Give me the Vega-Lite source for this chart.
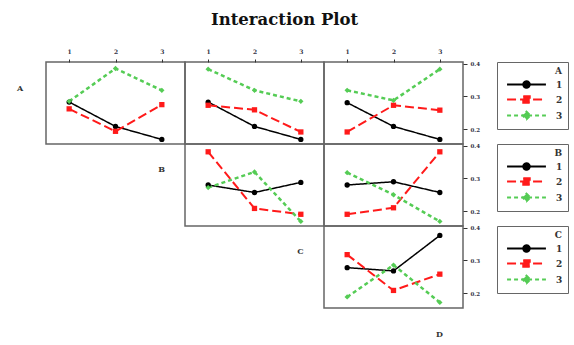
{
  "$schema": "https://vega.github.io/schema/vega-lite/v6.json",
  "padding": {"left": 0, "top": 11, "right": 4, "bottom": 0},
  "background": "white",
  "title": {"text": "Interaction Plot", "font": "DejaVu Serif", "fontSize": 16.5, "fontWeight": "bold", "color": "#111", "anchor": "middle", "offset": 19},
  "bounds": "flush",
  "spacing": 0,
  "columns": 4,
  "align": "each",
  "config": {
    "view": {"stroke": "#666", "strokeWidth": 1.5},
    "font": "DejaVu Serif",
    "axis": {"grid": false, "domain": false, "tickColor": "#333", "labelFont": "DejaVu Serif", "labelFontWeight": "bold", "labelColor": "#334"},
    "legend": {"orient": "none", "legendX": 173, "legendY": 0, "titleAnchor": "end", "titleFont": "DejaVu Serif", "titleFontSize": 9, "titleFontWeight": "bold", "titleColor": "#333", "titlePadding": 4,
      "labelFont": "DejaVu Serif", "labelFontSize": 9, "labelFontWeight": "bold", "labelColor": "#333", "symbolSize": 42, "symbolOffset": 20, "labelOffset": 25, "rowPadding": 0, "symbolOpacity": 1, "symbolStrokeWidth": 2,
      "strokeColor": "#666", "fillColor": "white", "padding": 5}
  },
  "resolve": {"scale": {"color": "independent", "fill": "independent", "stroke": "independent", "shape": "independent", "strokeDash": "independent", "strokeWidth": "independent", "x": "independent", "y": "independent"}, "legend": {"fill": "independent", "stroke": "independent", "shape": "independent", "strokeDash": "independent"}},
  "datasets": {
    "d": [
      {"trace": "A", "xfac": "B", "level": "1", "x": 1, "mean": 0.283},
      {"trace": "A", "xfac": "B", "level": "1", "x": 2, "mean": 0.208},
      {"trace": "A", "xfac": "B", "level": "1", "x": 3, "mean": 0.168},
      {"trace": "A", "xfac": "B", "level": "2", "x": 1, "mean": 0.262},
      {"trace": "A", "xfac": "B", "level": "2", "x": 2, "mean": 0.193},
      {"trace": "A", "xfac": "B", "level": "2", "x": 3, "mean": 0.275},
      {"trace": "A", "xfac": "B", "level": "3", "x": 1, "mean": 0.285},
      {"trace": "A", "xfac": "B", "level": "3", "x": 2, "mean": 0.386},
      {"trace": "A", "xfac": "B", "level": "3", "x": 3, "mean": 0.319},
      {"trace": "A", "xfac": "C", "level": "1", "x": 1, "mean": 0.283},
      {"trace": "A", "xfac": "C", "level": "1", "x": 2, "mean": 0.208},
      {"trace": "A", "xfac": "C", "level": "1", "x": 3, "mean": 0.168},
      {"trace": "A", "xfac": "C", "level": "2", "x": 1, "mean": 0.273},
      {"trace": "A", "xfac": "C", "level": "2", "x": 2, "mean": 0.259},
      {"trace": "A", "xfac": "C", "level": "2", "x": 3, "mean": 0.191},
      {"trace": "A", "xfac": "C", "level": "3", "x": 1, "mean": 0.384},
      {"trace": "A", "xfac": "C", "level": "3", "x": 2, "mean": 0.319},
      {"trace": "A", "xfac": "C", "level": "3", "x": 3, "mean": 0.285},
      {"trace": "A", "xfac": "D", "level": "1", "x": 1, "mean": 0.281},
      {"trace": "A", "xfac": "D", "level": "1", "x": 2, "mean": 0.208},
      {"trace": "A", "xfac": "D", "level": "1", "x": 3, "mean": 0.168},
      {"trace": "A", "xfac": "D", "level": "2", "x": 1, "mean": 0.191},
      {"trace": "A", "xfac": "D", "level": "2", "x": 2, "mean": 0.273},
      {"trace": "A", "xfac": "D", "level": "2", "x": 3, "mean": 0.258},
      {"trace": "A", "xfac": "D", "level": "3", "x": 1, "mean": 0.319},
      {"trace": "A", "xfac": "D", "level": "3", "x": 2, "mean": 0.288},
      {"trace": "A", "xfac": "D", "level": "3", "x": 3, "mean": 0.384},
      {"trace": "B", "xfac": "C", "level": "1", "x": 1, "mean": 0.280},
      {"trace": "B", "xfac": "C", "level": "1", "x": 2, "mean": 0.257},
      {"trace": "B", "xfac": "C", "level": "1", "x": 3, "mean": 0.288},
      {"trace": "B", "xfac": "C", "level": "2", "x": 1, "mean": 0.382},
      {"trace": "B", "xfac": "C", "level": "2", "x": 2, "mean": 0.208},
      {"trace": "B", "xfac": "C", "level": "2", "x": 3, "mean": 0.190},
      {"trace": "B", "xfac": "C", "level": "3", "x": 1, "mean": 0.272},
      {"trace": "B", "xfac": "C", "level": "3", "x": 2, "mean": 0.320},
      {"trace": "B", "xfac": "C", "level": "3", "x": 3, "mean": 0.168},
      {"trace": "B", "xfac": "D", "level": "1", "x": 1, "mean": 0.280},
      {"trace": "B", "xfac": "D", "level": "1", "x": 2, "mean": 0.290},
      {"trace": "B", "xfac": "D", "level": "1", "x": 3, "mean": 0.257},
      {"trace": "B", "xfac": "D", "level": "2", "x": 1, "mean": 0.190},
      {"trace": "B", "xfac": "D", "level": "2", "x": 2, "mean": 0.210},
      {"trace": "B", "xfac": "D", "level": "2", "x": 3, "mean": 0.382},
      {"trace": "B", "xfac": "D", "level": "3", "x": 1, "mean": 0.318},
      {"trace": "B", "xfac": "D", "level": "3", "x": 2, "mean": 0.250},
      {"trace": "B", "xfac": "D", "level": "3", "x": 3, "mean": 0.168},
      {"trace": "C", "xfac": "D", "level": "1", "x": 1, "mean": 0.278},
      {"trace": "C", "xfac": "D", "level": "1", "x": 2, "mean": 0.268},
      {"trace": "C", "xfac": "D", "level": "1", "x": 3, "mean": 0.377},
      {"trace": "C", "xfac": "D", "level": "2", "x": 1, "mean": 0.318},
      {"trace": "C", "xfac": "D", "level": "2", "x": 2, "mean": 0.208},
      {"trace": "C", "xfac": "D", "level": "2", "x": 3, "mean": 0.258},
      {"trace": "C", "xfac": "D", "level": "3", "x": 1, "mean": 0.188},
      {"trace": "C", "xfac": "D", "level": "3", "x": 2, "mean": 0.286},
      {"trace": "C", "xfac": "D", "level": "3", "x": 3, "mean": 0.171}
    ]
  },
  "concat": [
    {"width": 46, "height": 82, "view": {"stroke": null}, "data": {"values": [{"t": "A"}]},
     "mark": {"type": "text", "font": "DejaVu Serif", "fontSize": 8, "fontWeight": "bold", "color": "#333", "dx": -3, "dy": -14}, "encoding": {"text": {"field": "t"}}},
    {"width": 139, "height": 82, "data": {"name": "d"},
     "transform": [{"filter": "datum.trace === 'A' && datum.xfac === 'B'"}],
     "encoding": {
       "x": {"field": "x", "type": "quantitative", "scale": {"domain": [0.5, 3.5], "nice": false, "zero": false}, "axis": {"orient": "top", "values": [1, 2, 3], "format": "d", "title": null, "tickSize": 3, "labelFontSize": 6, "labelPadding": 5}},
       "y": {"field": "mean", "type": "quantitative", "scale": {"domain": [0.154, 0.406], "nice": false, "zero": false}, "axis": null},
       "color": {"field": "level", "type": "nominal", "scale": {"domain": ["1", "2", "3"], "range": ["#000000", "#ff1a1a", "#55cc55"]}, "legend": null}
     },
     "layer": [
       {"mark": {"type": "line"}, "encoding": {
         "strokeDash": {"field": "level", "type": "nominal", "scale": {"domain": ["1", "2", "3"], "range": [[1, 0], [9, 4], [4, 3]]}, "legend": null},
         "strokeWidth": {"field": "level", "type": "ordinal", "scale": {"domain": ["1", "2", "3"], "range": [1.5, 2.5, 2.2]}, "legend": null}}},
       {"mark": {"type": "point", "filled": true, "opacity": 1, "size": 28}, "encoding": {
         "shape": {"field": "level", "type": "nominal", "scale": {"domain": ["1", "2", "3"], "range": ["circle", "square", "diamond"]}, "legend": null}}}
     ]},
    {"width": 139, "height": 82, "data": {"name": "d"},
     "transform": [{"filter": "datum.trace === 'A' && datum.xfac === 'C'"}],
     "encoding": {
       "x": {"field": "x", "type": "quantitative", "scale": {"domain": [0.5, 3.5], "nice": false, "zero": false}, "axis": {"orient": "top", "values": [1, 2, 3], "format": "d", "title": null, "tickSize": 3, "labelFontSize": 6, "labelPadding": 5}},
       "y": {"field": "mean", "type": "quantitative", "scale": {"domain": [0.154, 0.406], "nice": false, "zero": false}, "axis": null},
       "color": {"field": "level", "type": "nominal", "scale": {"domain": ["1", "2", "3"], "range": ["#000000", "#ff1a1a", "#55cc55"]}, "legend": null}
     },
     "layer": [
       {"mark": {"type": "line"}, "encoding": {
         "strokeDash": {"field": "level", "type": "nominal", "scale": {"domain": ["1", "2", "3"], "range": [[1, 0], [9, 4], [4, 3]]}, "legend": null},
         "strokeWidth": {"field": "level", "type": "ordinal", "scale": {"domain": ["1", "2", "3"], "range": [1.5, 2.5, 2.2]}, "legend": null}}},
       {"mark": {"type": "point", "filled": true, "opacity": 1, "size": 28}, "encoding": {
         "shape": {"field": "level", "type": "nominal", "scale": {"domain": ["1", "2", "3"], "range": ["circle", "square", "diamond"]}, "legend": null}}}
     ]},
    {"width": 139, "height": 82, "data": {"name": "d"},
     "transform": [{"filter": "datum.trace === 'A' && datum.xfac === 'D'"}],
     "encoding": {
       "x": {"field": "x", "type": "quantitative", "scale": {"domain": [0.5, 3.5], "nice": false, "zero": false}, "axis": {"orient": "top", "values": [1, 2, 3], "format": "d", "title": null, "tickSize": 3, "labelFontSize": 6, "labelPadding": 5}},
       "y": {"field": "mean", "type": "quantitative", "scale": {"domain": [0.154, 0.406], "nice": false, "zero": false}, "axis": {"orient": "right", "values": [0.2, 0.3, 0.4], "format": ".1f", "title": null, "tickSize": 4, "labelFontSize": 5.5, "labelPadding": 3}}
     },
     "resolve": {"scale": {"shape": "independent", "strokeDash": "independent", "fill": "independent", "stroke": "independent"}},
     "layer": [
       {"mark": {"type": "line"}, "encoding": {
         "color": {"field": "level", "type": "nominal", "scale": {"domain": ["1", "2", "3"], "range": ["#000000", "#ff1a1a", "#55cc55"]}, "legend": null},
         "strokeDash": {"field": "level", "type": "nominal", "scale": {"domain": ["1", "2", "3"], "range": [[1, 0], [9, 4], [4, 3]]}, "legend": null},
         "strokeWidth": {"field": "level", "type": "ordinal", "scale": {"domain": ["1", "2", "3"], "range": [1.5, 2.5, 2.2]}, "legend": null}}},
       {"mark": {"type": "point", "filled": true, "opacity": 1, "size": 28}, "encoding": {
         "color": {"field": "level", "type": "nominal", "scale": {"domain": ["1", "2", "3"], "range": ["#000000", "#ff1a1a", "#55cc55"]}, "legend": null},
         "shape": {"field": "level", "type": "nominal", "scale": {"domain": ["1", "2", "3"], "range": ["circle", "square", "diamond"]}, "legend": null}}},
       {"mark": {"type": "point", "filled": true, "opacity": 0, "size": 42, "strokeWidth": 2}, "encoding": {
         "fill": {"field": "level", "type": "nominal", "scale": {"domain": ["1", "2", "3"], "range": ["#000000", "#ff1a1a", "#55cc55"]}, "legend": {"title": "A", "labelExpr": "datum.label + '    '"}},
         "stroke": {"field": "level", "type": "nominal", "scale": {"domain": ["1", "2", "3"], "range": ["#000000", "#ff1a1a", "#55cc55"]}, "legend": {"title": "A", "labelExpr": "datum.label + '    '"}},
         "shape": {"field": "level", "type": "nominal", "scale": {"domain": ["1", "2", "3"], "range": ["M-6,0H6M1,0A1,1,0,1,1,-1,0A1,1,0,1,1,1,0Z", "M-6,0H6M-1,-1H1V1H-1Z", "M-6,0H6M0,-1.2L1.2,0L0,1.2L-1.2,0Z"]}, "legend": {"title": "A", "labelExpr": "datum.label + '    '"}},
         "strokeDash": {"field": "level", "type": "nominal", "scale": {"domain": ["1", "2", "3"], "range": [[1, 0], [9, 4], [4, 3]]}, "legend": {"title": "A", "labelExpr": "datum.label + '    '"}}}}
     ]},

    {"width": 46, "height": 82, "view": {"stroke": null}, "data": {"values": [{"t": ""}]},
     "mark": {"type": "text"}, "encoding": {"text": {"field": "t"}}},
    {"width": 139, "height": 82, "view": {"stroke": null}, "data": {"values": [{"t": "B"}]},
     "mark": {"type": "text", "font": "DejaVu Serif", "fontSize": 8, "fontWeight": "bold", "color": "#333", "dx": 46, "dy": -15}, "encoding": {"text": {"field": "t"}}},
    {"width": 139, "height": 82, "data": {"name": "d"},
     "transform": [{"filter": "datum.trace === 'B' && datum.xfac === 'C'"}],
     "encoding": {
       "x": {"field": "x", "type": "quantitative", "scale": {"domain": [0.5, 3.5], "nice": false, "zero": false}, "axis": null},
       "y": {"field": "mean", "type": "quantitative", "scale": {"domain": [0.154, 0.406], "nice": false, "zero": false}, "axis": null},
       "color": {"field": "level", "type": "nominal", "scale": {"domain": ["1", "2", "3"], "range": ["#000000", "#ff1a1a", "#55cc55"]}, "legend": null}
     },
     "layer": [
       {"mark": {"type": "line"}, "encoding": {
         "strokeDash": {"field": "level", "type": "nominal", "scale": {"domain": ["1", "2", "3"], "range": [[1, 0], [9, 4], [4, 3]]}, "legend": null},
         "strokeWidth": {"field": "level", "type": "ordinal", "scale": {"domain": ["1", "2", "3"], "range": [1.5, 2.5, 2.2]}, "legend": null}}},
       {"mark": {"type": "point", "filled": true, "opacity": 1, "size": 28}, "encoding": {
         "shape": {"field": "level", "type": "nominal", "scale": {"domain": ["1", "2", "3"], "range": ["circle", "square", "diamond"]}, "legend": null}}}
     ]},
    {"width": 139, "height": 82, "data": {"name": "d"},
     "transform": [{"filter": "datum.trace === 'B' && datum.xfac === 'D'"}],
     "encoding": {
       "x": {"field": "x", "type": "quantitative", "scale": {"domain": [0.5, 3.5], "nice": false, "zero": false}, "axis": null},
       "y": {"field": "mean", "type": "quantitative", "scale": {"domain": [0.154, 0.406], "nice": false, "zero": false}, "axis": {"orient": "right", "values": [0.2, 0.3, 0.4], "format": ".1f", "title": null, "tickSize": 4, "labelFontSize": 5.5, "labelPadding": 3}}
     },
     "resolve": {"scale": {"shape": "independent", "strokeDash": "independent", "fill": "independent", "stroke": "independent"}},
     "layer": [
       {"mark": {"type": "line"}, "encoding": {
         "color": {"field": "level", "type": "nominal", "scale": {"domain": ["1", "2", "3"], "range": ["#000000", "#ff1a1a", "#55cc55"]}, "legend": null},
         "strokeDash": {"field": "level", "type": "nominal", "scale": {"domain": ["1", "2", "3"], "range": [[1, 0], [9, 4], [4, 3]]}, "legend": null},
         "strokeWidth": {"field": "level", "type": "ordinal", "scale": {"domain": ["1", "2", "3"], "range": [1.5, 2.5, 2.2]}, "legend": null}}},
       {"mark": {"type": "point", "filled": true, "opacity": 1, "size": 28}, "encoding": {
         "color": {"field": "level", "type": "nominal", "scale": {"domain": ["1", "2", "3"], "range": ["#000000", "#ff1a1a", "#55cc55"]}, "legend": null},
         "shape": {"field": "level", "type": "nominal", "scale": {"domain": ["1", "2", "3"], "range": ["circle", "square", "diamond"]}, "legend": null}}},
       {"mark": {"type": "point", "filled": true, "opacity": 0, "size": 42, "strokeWidth": 2}, "encoding": {
         "fill": {"field": "level", "type": "nominal", "scale": {"domain": ["1", "2", "3"], "range": ["#000000", "#ff1a1a", "#55cc55"]}, "legend": {"title": "B", "labelExpr": "datum.label + '    '"}},
         "stroke": {"field": "level", "type": "nominal", "scale": {"domain": ["1", "2", "3"], "range": ["#000000", "#ff1a1a", "#55cc55"]}, "legend": {"title": "B", "labelExpr": "datum.label + '    '"}},
         "shape": {"field": "level", "type": "nominal", "scale": {"domain": ["1", "2", "3"], "range": ["M-6,0H6M1,0A1,1,0,1,1,-1,0A1,1,0,1,1,1,0Z", "M-6,0H6M-1,-1H1V1H-1Z", "M-6,0H6M0,-1.2L1.2,0L0,1.2L-1.2,0Z"]}, "legend": {"title": "B", "labelExpr": "datum.label + '    '"}},
         "strokeDash": {"field": "level", "type": "nominal", "scale": {"domain": ["1", "2", "3"], "range": [[1, 0], [9, 4], [4, 3]]}, "legend": {"title": "B", "labelExpr": "datum.label + '    '"}}}}
     ]},

    {"width": 46, "height": 82, "view": {"stroke": null}, "data": {"values": [{"t": ""}]},
     "mark": {"type": "text"}, "encoding": {"text": {"field": "t"}}},
    {"width": 139, "height": 82, "view": {"stroke": null}, "data": {"values": [{"t": ""}]},
     "mark": {"type": "text"}, "encoding": {"text": {"field": "t"}}},
    {"width": 139, "height": 82, "view": {"stroke": null}, "data": {"values": [{"t": "C"}]},
     "mark": {"type": "text", "font": "DejaVu Serif", "fontSize": 8, "fontWeight": "bold", "color": "#333", "dx": 46, "dy": -15}, "encoding": {"text": {"field": "t"}}},
    {"width": 139, "height": 82, "data": {"name": "d"},
     "transform": [{"filter": "datum.trace === 'C' && datum.xfac === 'D'"}],
     "encoding": {
       "x": {"field": "x", "type": "quantitative", "scale": {"domain": [0.5, 3.5], "nice": false, "zero": false}, "axis": null},
       "y": {"field": "mean", "type": "quantitative", "scale": {"domain": [0.154, 0.406], "nice": false, "zero": false}, "axis": {"orient": "right", "values": [0.2, 0.3, 0.4], "format": ".1f", "title": null, "tickSize": 4, "labelFontSize": 5.5, "labelPadding": 3}}
     },
     "resolve": {"scale": {"shape": "independent", "strokeDash": "independent", "fill": "independent", "stroke": "independent"}},
     "layer": [
       {"mark": {"type": "line"}, "encoding": {
         "color": {"field": "level", "type": "nominal", "scale": {"domain": ["1", "2", "3"], "range": ["#000000", "#ff1a1a", "#55cc55"]}, "legend": null},
         "strokeDash": {"field": "level", "type": "nominal", "scale": {"domain": ["1", "2", "3"], "range": [[1, 0], [9, 4], [4, 3]]}, "legend": null},
         "strokeWidth": {"field": "level", "type": "ordinal", "scale": {"domain": ["1", "2", "3"], "range": [1.5, 2.5, 2.2]}, "legend": null}}},
       {"mark": {"type": "point", "filled": true, "opacity": 1, "size": 28}, "encoding": {
         "color": {"field": "level", "type": "nominal", "scale": {"domain": ["1", "2", "3"], "range": ["#000000", "#ff1a1a", "#55cc55"]}, "legend": null},
         "shape": {"field": "level", "type": "nominal", "scale": {"domain": ["1", "2", "3"], "range": ["circle", "square", "diamond"]}, "legend": null}}},
       {"mark": {"type": "point", "filled": true, "opacity": 0, "size": 42, "strokeWidth": 2}, "encoding": {
         "fill": {"field": "level", "type": "nominal", "scale": {"domain": ["1", "2", "3"], "range": ["#000000", "#ff1a1a", "#55cc55"]}, "legend": {"title": "C", "labelExpr": "datum.label + '    '"}},
         "stroke": {"field": "level", "type": "nominal", "scale": {"domain": ["1", "2", "3"], "range": ["#000000", "#ff1a1a", "#55cc55"]}, "legend": {"title": "C", "labelExpr": "datum.label + '    '"}},
         "shape": {"field": "level", "type": "nominal", "scale": {"domain": ["1", "2", "3"], "range": ["M-6,0H6M1,0A1,1,0,1,1,-1,0A1,1,0,1,1,1,0Z", "M-6,0H6M-1,-1H1V1H-1Z", "M-6,0H6M0,-1.2L1.2,0L0,1.2L-1.2,0Z"]}, "legend": {"title": "C", "labelExpr": "datum.label + '    '"}},
         "strokeDash": {"field": "level", "type": "nominal", "scale": {"domain": ["1", "2", "3"], "range": [[1, 0], [9, 4], [4, 3]]}, "legend": {"title": "C", "labelExpr": "datum.label + '    '"}}}}
     ]},

    {"width": 46, "height": 40, "view": {"stroke": null}, "data": {"values": [{"t": ""}]},
     "mark": {"type": "text"}, "encoding": {"text": {"field": "t"}}},
    {"width": 139, "height": 40, "view": {"stroke": null}, "data": {"values": [{"t": ""}]},
     "mark": {"type": "text"}, "encoding": {"text": {"field": "t"}}},
    {"width": 139, "height": 40, "view": {"stroke": null}, "data": {"values": [{"t": ""}]},
     "mark": {"type": "text"}, "encoding": {"text": {"field": "t"}}},
    {"width": 139, "height": 40, "view": {"stroke": null}, "data": {"values": [{"t": "D"}]},
     "mark": {"type": "text", "font": "DejaVu Serif", "fontSize": 8, "fontWeight": "bold", "color": "#333", "dx": 46, "dy": 7}, "encoding": {"text": {"field": "t"}}}
  ]
}
